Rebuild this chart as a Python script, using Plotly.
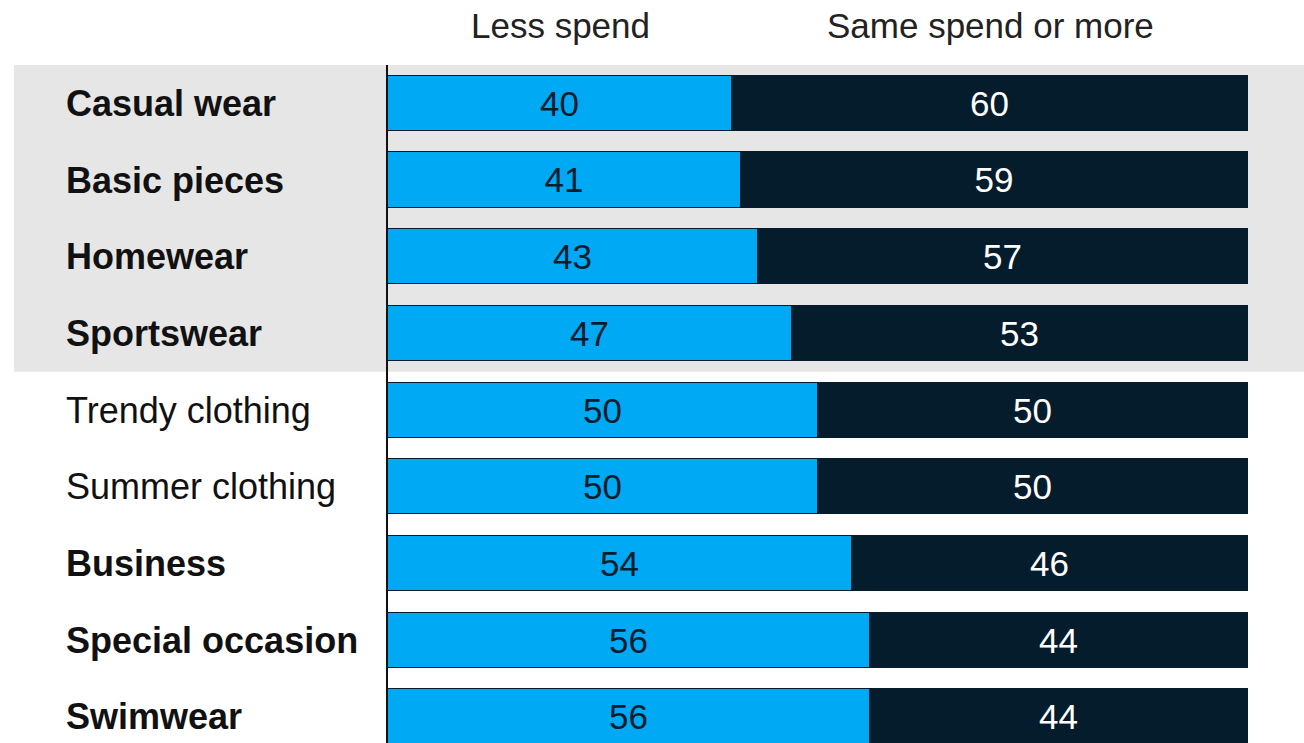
import plotly.graph_objects as go

# Clothing categories, top to bottom
categories = [
    "Casual wear", "Basic pieces", "Homewear", "Sportswear",
    "Trendy clothing", "Summer clothing", "Business",
    "Special occasion", "Swimwear",
]
# Categories set in bold
bold_categories = [
    "Casual wear", "Basic pieces", "Homewear", "Sportswear",
    "Business", "Special occasion", "Swimwear",
]
less_spend = [40, 41, 43, 47, 50, 50, 54, 56, 56]
same_or_more = [60, 59, 57, 53, 50, 50, 46, 44, 44]
series_names = ["Less spend", "Same spend or more"]

BLUE = "#00A9F4"
NAVY = "#051C2C"
FONT = "Liberation Sans, Arial, sans-serif"
W, H = 1304, 743
L, R, T, B = 388, 56, 65, 0
plot_w = W - L - R
plot_h = H - T - B

ypos = list(range(len(categories)))

fig = go.Figure()
fig.add_trace(go.Bar(
    y=ypos, x=less_spend, orientation="h", name=series_names[0],
    marker=dict(color=BLUE, line=dict(color=NAVY, width=1)),
    text=[str(v) for v in less_spend], textposition="inside",
    insidetextanchor="middle", textangle=0,
    textfont=dict(color=NAVY, size=35, family=FONT),
    width=0.72,
))
fig.add_trace(go.Bar(
    y=ypos, x=same_or_more, orientation="h", name=series_names[1],
    marker=dict(color=NAVY, line=dict(color=NAVY, width=1)),
    text=[str(v) for v in same_or_more], textposition="inside",
    insidetextanchor="middle", textangle=0,
    textfont=dict(color="white", size=35, family=FONT),
    width=0.72,
))

# Grey band behind the first four categories
fig.add_shape(
    type="rect", layer="below",
    xref="paper", yref="y",
    x0=(14 - L) / plot_w, x1=(W - L) / plot_w,
    y0=-0.5, y1=3.5,
    fillcolor="#E6E6E6", line=dict(width=0),
)

# Category labels, left aligned
for i, cat in enumerate(categories):
    txt = f"<b>{cat}</b>" if cat in bold_categories else cat
    fig.add_annotation(
        x=(64 - L) / plot_w, xref="paper", xanchor="left",
        y=i, yref="y", yanchor="middle",
        text=txt, showarrow=False,
        font=dict(size=36, color="#111111", family=FONT),
    )

# Column headers
for name, xc in zip(series_names, [560, 990]):
    fig.add_annotation(
        x=(xc - L) / plot_w, xref="paper", xanchor="center",
        y=1 + (T - 25) / plot_h, yref="paper", yanchor="middle",
        text=name, showarrow=False,
        font=dict(size=35, color="#222222", family=FONT),
    )

slot = 76.7
fig.update_layout(
    width=W, height=H,
    margin=dict(l=L, r=R, t=T, b=B, pad=0),
    barmode="stack", bargap=0,
    showlegend=False,
    plot_bgcolor="rgba(0,0,0,0)", paper_bgcolor="white",
    font=dict(family=FONT),
    xaxis=dict(range=[0, 100], showgrid=False, zeroline=False,
               showticklabels=False, fixedrange=True),
    yaxis=dict(range=[-0.5 + plot_h / slot, -0.5], showgrid=False,
               zeroline=False, showticklabels=False,
               showline=True, linecolor="#111111", linewidth=2),
)

fig.write_html("out.html")
